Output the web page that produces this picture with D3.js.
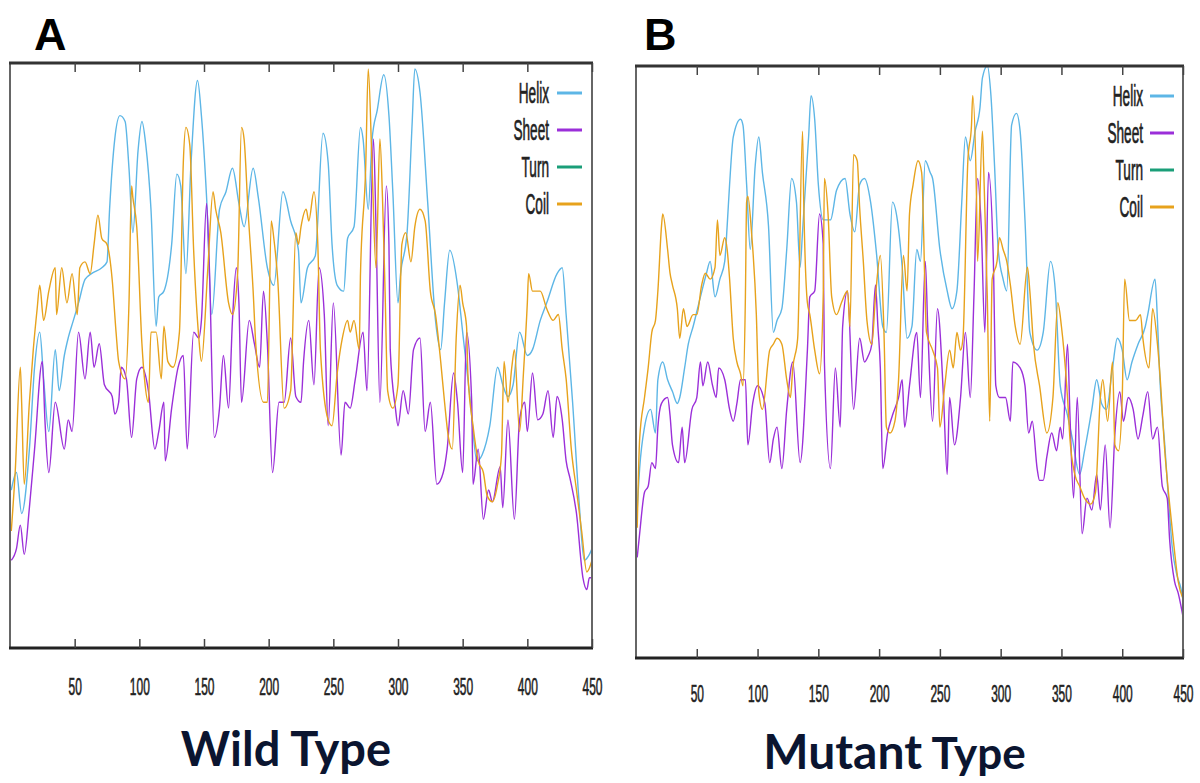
<!DOCTYPE html>
<html>
<head>
<meta charset="utf-8">
<script src="https://cdn.jsdelivr.net/npm/d3@7/dist/d3.min.js"></script>
<style>
  body { margin: 0; background: #fff; }
  svg { display: block; }
</style>
</head>
<body>
<svg id="chart" width="1200" height="783"></svg>
<script>
// residue ticks on the x axis
const xTicks = [50, 100, 150, 200, 250, 300, 350, 400, 450];
const seriesNames = ["Helix", "Sheet", "Turn", "Coil"];
const seriesColors = { Helix: "#5db6e6", Sheet: "#9b2fd9", Turn: "#1a9e78", Coil: "#e7a21c" };

// wild type, [residue, score] (score as fraction of the plot height)
const wildHelix = [[1,0.27],[5,0.30],[9,0.23],[15,0.34],[19,0.48],[23,0.54],[26,0.46],[30,0.37],[35,0.51],[38,0.44],[42,0.50],[45,0.53],[49,0.56],[53,0.59],[58,0.63],[63,0.64],[71,0.65],[75,0.66],[77,0.75],[81,0.87],[85,0.91],[89,0.90],[92,0.82],[95,0.71],[99,0.85],[102,0.90],[105,0.86],[109,0.75],[113,0.55],[115,0.60],[119,0.61],[125,0.69],[129,0.81],[132,0.79],[136,0.64],[140,0.83],[145,0.97],[148,0.91],[152,0.77],[156,0.57],[162,0.75],[167,0.78],[172,0.82],[177,0.76],[181,0.72],[188,0.82],[192,0.77],[199,0.65],[204,0.62],[211,0.78],[217,0.73],[223,0.68],[225,0.59],[230,0.65],[236,0.67],[242,0.88],[246,0.83],[249,0.69],[253,0.62],[258,0.61],[261,0.70],[266,0.72],[271,0.89],[273,0.87],[277,0.75],[280,0.87],[284,0.92],[289,0.98],[293,0.91],[296,0.78],[300,0.59],[302,0.64],[307,0.71],[311,0.90],[313,0.99],[317,0.95],[323,0.76],[329,0.56],[333,0.51],[336,0.59],[340,0.68],[346,0.62],[350,0.54],[356,0.42],[361,0.32],[365,0.33],[371,0.38],[377,0.48],[381,0.45],[385,0.43],[389,0.45],[394,0.54],[400,0.50],[404,0.51],[410,0.56],[415,0.59],[423,0.64],[427,0.65],[430,0.57],[435,0.42],[440,0.25],[444,0.15],[448,0.16],[450,0.17]];

const wildSheet = [[1,0.15],[5,0.17],[8,0.21],[11,0.16],[15,0.24],[19,0.34],[25,0.49],[27,0.39],[30,0.30],[35,0.42],[42,0.34],[45,0.39],[48,0.37],[53,0.54],[58,0.46],[62,0.54],[65,0.48],[69,0.52],[73,0.45],[79,0.43],[81,0.40],[84,0.42],[86,0.48],[90,0.46],[94,0.36],[98,0.46],[102,0.48],[107,0.44],[112,0.34],[115,0.37],[119,0.42],[120,0.32],[125,0.41],[130,0.48],[134,0.50],[137,0.34],[142,0.54],[146,0.53],[148,0.56],[152,0.76],[154,0.66],[158,0.36],[162,0.41],[165,0.50],[169,0.41],[172,0.56],[175,0.65],[177,0.59],[179,0.42],[185,0.56],[189,0.52],[193,0.48],[196,0.61],[199,0.52],[203,0.30],[208,0.42],[212,0.42],[217,0.53],[221,0.43],[225,0.42],[227,0.49],[231,0.56],[235,0.45],[239,0.65],[243,0.57],[246,0.38],[250,0.59],[256,0.33],[259,0.42],[263,0.41],[267,0.46],[273,0.54],[276,0.44],[281,0.87],[283,0.72],[286,0.42],[291,0.79],[293,0.69],[294,0.51],[298,0.41],[300,0.38],[304,0.44],[308,0.40],[312,0.51],[317,0.53],[321,0.37],[325,0.42],[330,0.28],[335,0.30],[338,0.34],[343,0.47],[346,0.42],[350,0.30],[353,0.54],[357,0.42],[358,0.28],[362,0.34],[366,0.22],[370,0.27],[373,0.25],[379,0.31],[381,0.24],[385,0.39],[390,0.22],[394,0.39],[398,0.42],[400,0.37],[404,0.47],[408,0.39],[412,0.40],[416,0.44],[420,0.36],[423,0.43],[427,0.39],[430,0.32],[433,0.29],[438,0.23],[443,0.12],[446,0.10],[448,0.12],[450,0.12]];

const wildCoil = [[1,0.20],[4,0.30],[8,0.48],[9,0.42],[11,0.28],[15,0.42],[18,0.51],[21,0.58],[23,0.62],[26,0.56],[30,0.61],[35,0.65],[36,0.57],[40,0.65],[44,0.59],[48,0.64],[52,0.57],[54,0.65],[58,0.66],[62,0.64],[65,0.69],[68,0.74],[71,0.70],[75,0.69],[79,0.63],[82,0.54],[84,0.49],[89,0.46],[92,0.59],[94,0.79],[95,0.77],[98,0.72],[102,0.52],[104,0.46],[107,0.42],[109,0.54],[113,0.54],[117,0.46],[119,0.55],[122,0.49],[126,0.48],[131,0.54],[134,0.83],[136,0.89],[139,0.86],[142,0.68],[146,0.53],[148,0.49],[153,0.65],[157,0.78],[159,0.75],[163,0.71],[169,0.59],[172,0.57],[176,0.64],[179,0.89],[181,0.87],[184,0.75],[188,0.61],[190,0.52],[196,0.42],[199,0.42],[202,0.73],[204,0.70],[207,0.63],[212,0.41],[217,0.44],[221,0.71],[223,0.69],[225,0.72],[229,0.75],[231,0.73],[235,0.78],[238,0.69],[240,0.51],[246,0.39],[249,0.38],[253,0.47],[257,0.53],[261,0.56],[263,0.54],[266,0.56],[270,0.51],[271,0.64],[275,0.82],[277,0.99],[280,0.82],[283,0.65],[286,0.87],[288,0.77],[290,0.61],[292,0.44],[296,0.41],[300,0.45],[303,0.69],[306,0.71],[310,0.66],[313,0.72],[317,0.75],[321,0.73],[325,0.61],[329,0.57],[333,0.49],[336,0.42],[339,0.36],[342,0.34],[345,0.53],[348,0.62],[350,0.59],[353,0.55],[354,0.47],[358,0.38],[362,0.32],[366,0.30],[369,0.26],[373,0.25],[377,0.28],[380,0.33],[382,0.49],[385,0.42],[388,0.48],[390,0.51],[394,0.37],[397,0.47],[400,0.59],[401,0.64],[404,0.61],[410,0.61],[415,0.58],[420,0.56],[424,0.57],[427,0.51],[430,0.46],[434,0.34],[438,0.27],[442,0.20],[446,0.13],[450,0.15]];

// mutant type
const mutHelix = [[1,0.25],[3,0.32],[7,0.39],[12,0.42],[16,0.38],[18,0.47],[22,0.50],[26,0.47],[30,0.45],[34,0.43],[36,0.44],[40,0.49],[43,0.53],[47,0.56],[53,0.61],[58,0.65],[61,0.67],[65,0.61],[69,0.64],[73,0.67],[75,0.73],[77,0.80],[80,0.88],[86,0.91],[88,0.90],[91,0.80],[94,0.69],[98,0.83],[101,0.88],[104,0.82],[109,0.73],[113,0.55],[116,0.57],[120,0.59],[124,0.69],[128,0.81],[132,0.77],[135,0.66],[137,0.72],[142,0.88],[144,0.95],[147,0.91],[150,0.80],[154,0.74],[160,0.74],[165,0.79],[172,0.81],[176,0.75],[180,0.72],[184,0.80],[188,0.81],[193,0.77],[198,0.68],[203,0.56],[206,0.55],[211,0.77],[215,0.74],[219,0.66],[223,0.54],[227,0.56],[231,0.69],[234,0.67],[238,0.84],[242,0.82],[244,0.81],[250,0.69],[256,0.62],[260,0.59],[264,0.62],[268,0.77],[271,0.88],[275,0.84],[279,0.89],[283,0.93],[285,0.98],[289,1.00],[292,0.95],[295,0.83],[298,0.69],[302,0.64],[305,0.62],[309,0.90],[313,0.92],[316,0.89],[320,0.74],[324,0.55],[330,0.52],[335,0.55],[341,0.67],[345,0.62],[349,0.46],[355,0.41],[359,0.37],[365,0.31],[369,0.35],[375,0.42],[379,0.47],[383,0.43],[387,0.42],[392,0.49],[396,0.54],[400,0.52],[404,0.47],[408,0.50],[413,0.53],[419,0.56],[421,0.58],[427,0.64],[429,0.57],[431,0.47],[435,0.36],[438,0.27],[441,0.19],[445,0.14],[448,0.12],[450,0.10]];

const mutSheet = [[1,0.17],[3,0.21],[7,0.28],[10,0.29],[13,0.33],[16,0.32],[18,0.39],[21,0.43],[26,0.44],[28,0.41],[30,0.36],[35,0.33],[38,0.39],[40,0.33],[46,0.42],[50,0.44],[53,0.50],[55,0.46],[59,0.50],[63,0.46],[66,0.44],[68,0.49],[73,0.47],[77,0.42],[80,0.40],[83,0.43],[86,0.47],[90,0.47],[92,0.36],[96,0.43],[100,0.46],[106,0.43],[110,0.33],[113,0.37],[116,0.39],[120,0.32],[124,0.42],[129,0.50],[135,0.33],[141,0.52],[143,0.61],[147,0.62],[151,0.75],[154,0.70],[155,0.50],[160,0.32],[164,0.49],[168,0.39],[170,0.56],[174,0.62],[179,0.42],[184,0.54],[188,0.50],[191,0.51],[194,0.53],[197,0.63],[199,0.56],[201,0.49],[203,0.32],[207,0.38],[211,0.41],[216,0.44],[219,0.47],[221,0.39],[225,0.46],[231,0.55],[234,0.44],[238,0.67],[240,0.56],[244,0.40],[248,0.59],[253,0.44],[256,0.31],[258,0.44],[262,0.36],[267,0.44],[271,0.55],[275,0.44],[278,0.61],[281,0.81],[284,0.73],[287,0.55],[290,0.82],[294,0.67],[296,0.46],[299,0.44],[304,0.44],[308,0.40],[310,0.50],[316,0.49],[320,0.46],[323,0.38],[326,0.40],[330,0.32],[332,0.30],[335,0.30],[338,0.34],[342,0.38],[346,0.35],[349,0.39],[351,0.37],[355,0.53],[357,0.41],[360,0.27],[363,0.44],[367,0.21],[371,0.27],[375,0.25],[379,0.31],[382,0.25],[386,0.36],[390,0.22],[394,0.38],[398,0.45],[401,0.40],[405,0.44],[409,0.42],[413,0.37],[417,0.41],[421,0.45],[425,0.37],[429,0.39],[433,0.29],[437,0.27],[439,0.20],[443,0.13],[446,0.11],[450,0.07]];

const mutCoil = [[1,0.22],[3,0.37],[7,0.44],[10,0.49],[13,0.55],[16,0.57],[18,0.62],[21,0.73],[22,0.75],[26,0.69],[28,0.65],[30,0.63],[34,0.59],[36,0.54],[39,0.59],[42,0.56],[47,0.58],[50,0.58],[54,0.63],[57,0.65],[61,0.64],[65,0.66],[67,0.74],[69,0.68],[73,0.71],[75,0.69],[77,0.64],[80,0.54],[83,0.50],[86,0.48],[88,0.46],[90,0.61],[91,0.77],[92,0.78],[95,0.72],[99,0.58],[101,0.45],[104,0.42],[110,0.52],[113,0.53],[116,0.54],[120,0.53],[124,0.47],[127,0.44],[129,0.49],[133,0.54],[137,0.89],[138,0.77],[141,0.60],[143,0.58],[147,0.52],[151,0.48],[154,0.61],[155,0.81],[158,0.75],[161,0.61],[165,0.58],[169,0.60],[174,0.62],[176,0.56],[179,0.85],[182,0.84],[184,0.76],[187,0.67],[190,0.57],[194,0.53],[197,0.61],[201,0.68],[204,0.55],[206,0.39],[209,0.38],[213,0.40],[216,0.47],[220,0.68],[223,0.62],[225,0.75],[228,0.80],[232,0.84],[235,0.82],[239,0.55],[244,0.52],[248,0.49],[250,0.39],[254,0.46],[258,0.52],[261,0.49],[264,0.55],[267,0.52],[269,0.54],[273,0.84],[276,0.90],[277,0.95],[280,0.79],[281,0.67],[285,0.89],[286,0.83],[289,0.61],[291,0.40],[293,0.64],[297,0.67],[299,0.71],[302,0.69],[305,0.67],[308,0.63],[312,0.56],[316,0.53],[322,0.66],[324,0.62],[327,0.53],[332,0.46],[338,0.38],[343,0.44],[347,0.60],[350,0.56],[352,0.52],[355,0.44],[357,0.37],[361,0.31],[365,0.29],[369,0.27],[374,0.26],[378,0.28],[382,0.44],[384,0.47],[388,0.40],[392,0.50],[394,0.36],[397,0.35],[400,0.44],[402,0.64],[406,0.57],[411,0.57],[415,0.58],[417,0.54],[422,0.49],[425,0.59],[429,0.53],[431,0.48],[435,0.35],[439,0.26],[442,0.20],[446,0.13],[450,0.10]];

const panels = [
  { letter: "A", title: [["Wild Type", 47]], box: { left: 10, right: 592, top: 63, bottom: 648 },
    legendX: 549, lineX: [557, 582], labelPad: 31, titleY: 766,
    series: { Helix: wildHelix, Sheet: wildSheet, Coil: wildCoil } },
  { letter: "B", title: [["Mutant", 48], ["Type", 44]], box: { left: 636, right: 1183, top: 66, bottom: 658 },
    legendX: 1143, lineX: [1150, 1174], labelPad: 28, titleY: 769,
    series: { Helix: mutHelix, Sheet: mutSheet, Coil: mutCoil } }
];

const svg = d3.select("#chart");
svg.append("rect").attr("width", 1200).attr("height", 783).attr("fill", "#fff");

panels.forEach(function (p, pi) {
  const b = p.box;
  const x = d3.scaleLinear().domain([0, 450]).range([b.left, b.right]);
  const y = d3.scaleLinear().domain([0, 1]).range([b.bottom, b.top]);

  svg.append("clipPath").attr("id", "clip" + pi)
    .append("rect")
    .attr("x", b.left).attr("y", b.top)
    .attr("width", b.right - b.left).attr("height", b.bottom - b.top);

  const line = d3.line()
    .curve(d3.curveMonotoneX)
    .x(function (d) { return x(d[0]); })
    .y(function (d) { return y(d[1]); });

  const g = svg.append("g").attr("clip-path", "url(#clip" + pi + ")");
  ["Helix", "Sheet", "Coil"].forEach(function (name) {
    g.append("path")
      .datum(p.series[name])
      .attr("fill", "none")
      .attr("stroke", seriesColors[name])
      .attr("stroke-width", 1.4)
      .attr("stroke-linejoin", "round")
      .attr("d", line);
  });

  // frame
  svg.append("line").attr("x1", b.left).attr("x2", b.left).attr("y1", b.top).attr("y2", b.bottom)
    .attr("stroke", "#666").attr("stroke-width", 2);
  svg.append("line").attr("x1", b.right).attr("x2", b.right).attr("y1", b.top).attr("y2", b.bottom)
    .attr("stroke", "#666").attr("stroke-width", 2);
  svg.append("line").attr("x1", b.left - 1).attr("x2", b.right + 1).attr("y1", b.top).attr("y2", b.top)
    .attr("stroke", "#333").attr("stroke-width", 3);
  svg.append("line").attr("x1", b.left - 1).attr("x2", b.right + 1).attr("y1", b.bottom).attr("y2", b.bottom)
    .attr("stroke", "#222").attr("stroke-width", 3);

  // ticks
  const top = svg.append("g")
    .attr("transform", "translate(0," + b.top + ")")
    .call(d3.axisTop(x).tickValues(xTicks).tickSize(-9).tickFormat(""));
  top.select(".domain").remove();
  top.selectAll("line").attr("stroke", "#444").attr("stroke-width", 1.5);

  const bottom = svg.append("g")
    .attr("transform", "translate(0," + b.bottom + ")")
    .call(d3.axisBottom(x).tickValues(xTicks).tickSize(-9).tickPadding(p.labelPad));
  bottom.select(".domain").remove();
  bottom.selectAll("line").attr("stroke", "#444").attr("stroke-width", 1.5);
  bottom.selectAll("text")
    .attr("font-family", "Liberation Sans, Arial, sans-serif")
    .attr("font-size", 23)
    .attr("fill", "#222")
    .attr("stroke", "#222").attr("stroke-width", 0.6)
    .attr("transform", "scale(0.52,1)");

  // legend
  const legendY = d3.scalePoint().domain(seriesNames).range([b.top + 30, b.top + 141]);
  const lg = svg.append("g");
  seriesNames.forEach(function (name) {
    lg.append("g")
      .attr("transform", "translate(" + p.legendX + "," + legendY(name) + ") scale(0.47,1)")
      .append("text")
      .attr("text-anchor", "end")
      .attr("dy", "0.36em")
      .attr("font-family", "Liberation Sans, Arial, sans-serif")
      .attr("font-size", 29)
      .attr("fill", "#222")
      .attr("stroke", "#222").attr("stroke-width", 0.7)
      .text(name);
    lg.append("line")
      .attr("x1", p.lineX[0]).attr("x2", p.lineX[1])
      .attr("y1", legendY(name)).attr("y2", legendY(name))
      .attr("stroke", seriesColors[name]).attr("stroke-width", 3);
  });

  // panel letter
  svg.append("text")
    .attr("x", pi === 0 ? 34 : 644).attr("y", 50)
    .attr("font-family", "Liberation Sans, Arial, sans-serif")
    .attr("font-weight", "bold").attr("font-size", 45)
    .attr("fill", "#000")
    .text(p.letter);

  // title under the panel
  const t = svg.append("text")
    .attr("x", (b.left + b.right) / 2 - 15).attr("y", p.titleY)
    .attr("text-anchor", "middle")
    .attr("font-family", "Lato, Open Sans, sans-serif")
    .attr("font-weight", "bold")
    .attr("fill", "#0b1530");
  p.title.forEach(function (part, i) {
    t.append("tspan").attr("font-size", part[1]).text((i > 0 ? " " : "") + part[0]);
  });
});
</script>
</body>
</html>
